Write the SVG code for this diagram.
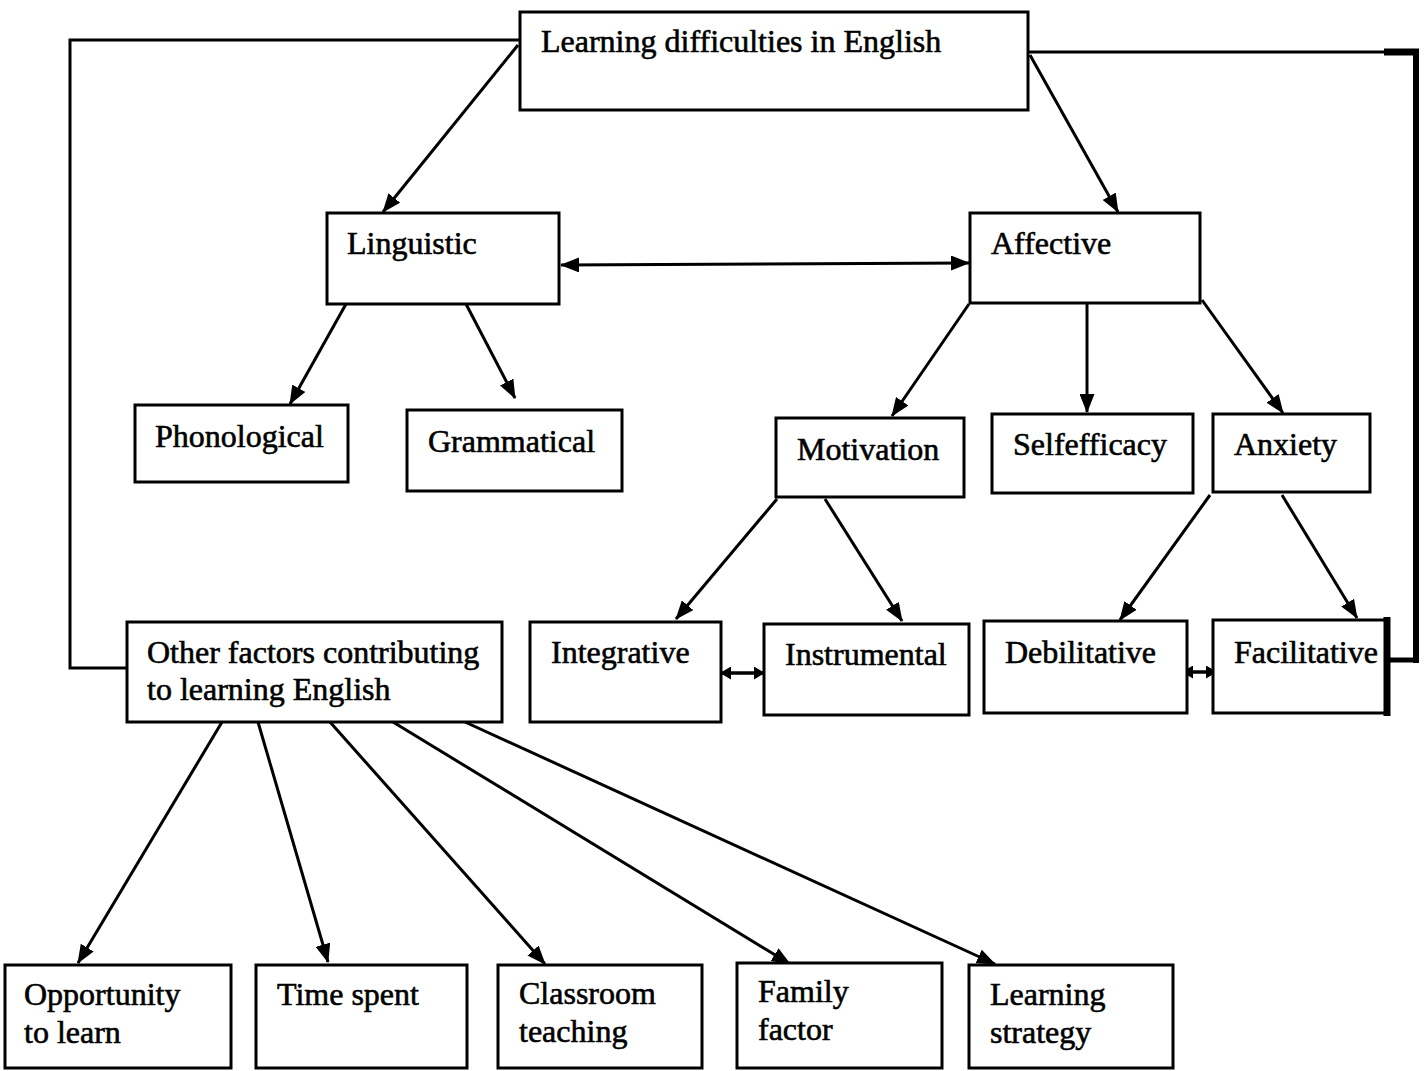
<svg xmlns="http://www.w3.org/2000/svg" width="1424" height="1071" viewBox="0 0 1424 1071">
  <style>
    .box { fill: #ffffff; stroke: #000000; stroke-width: 3; }
    .lbl { font-family: "Liberation Serif", "Times New Roman", serif; font-size: 32px; fill: #000000; stroke: #000000; stroke-width: 0.6; }
    .edge { fill: none; stroke: #000000; stroke-width: 3; }
    .arrow { fill: none; stroke: #000000; stroke-width: 3; marker-end: url(#head); }
    .both { fill: none; stroke: #000000; stroke-width: 3; marker-start: url(#head); marker-end: url(#head); }
    .bothSmall { fill: none; stroke: #000000; stroke-width: 3.5; marker-start: url(#headSmall); marker-end: url(#headSmall); }
  </style>
  <defs>
    <marker id="head" viewBox="0 0 19 15" refX="18" refY="7.5" markerWidth="19" markerHeight="15" markerUnits="userSpaceOnUse" orient="auto-start-reverse">
      <path d="M0,0 L19,7.5 L0,15 Z" fill="#000000"/>
    </marker>
    <marker id="headSmall" viewBox="0 0 11 13" refX="10" refY="6.5" markerWidth="11" markerHeight="13" markerUnits="userSpaceOnUse" orient="auto-start-reverse">
      <path d="M0,0 L11,6.5 L0,13 Z" fill="#000000"/>
    </marker>
  </defs>

  <rect width="1424" height="1071" fill="#ffffff"/>

  <!-- connectors -->
  <g id="connectors">
    <!-- feedback loop on the left: top box to other factors -->
    <polyline class="edge" points="520,40 70,40 70,668 127,668"/>
    <!-- feedback loop on the right: top box to facilitative -->
    <line class="edge" x1="1028" y1="52" x2="1386" y2="52"/>
    <line x1="1384" y1="52" x2="1419" y2="52" stroke="#000" stroke-width="7"/>
    <line x1="1416" y1="49" x2="1416" y2="663" stroke="#000" stroke-width="6"/>
    <line x1="1386" y1="660" x2="1419" y2="660" stroke="#000" stroke-width="5"/>
    <line x1="1387" y1="617" x2="1387" y2="716" stroke="#000" stroke-width="7"/>

    <line class="arrow" x1="518" y1="45" x2="383" y2="212"/>
    <line class="arrow" x1="1030" y1="55" x2="1118" y2="212"/>
    <line class="both" x1="561" y1="265" x2="969" y2="263"/>

    <line class="arrow" x1="346" y1="304" x2="290" y2="404"/>
    <line class="arrow" x1="466" y1="304" x2="515" y2="398"/>

    <line class="arrow" x1="969" y1="304" x2="892" y2="416"/>
    <line class="arrow" x1="1087" y1="302" x2="1087" y2="412"/>
    <line class="arrow" x1="1202" y1="300" x2="1283" y2="413"/>

    <line class="arrow" x1="777" y1="499" x2="676" y2="619"/>
    <line class="arrow" x1="825" y1="499" x2="902" y2="621"/>
    <line class="arrow" x1="1210" y1="495" x2="1120" y2="620"/>
    <line class="arrow" x1="1282" y1="495" x2="1357" y2="618"/>

    <line class="bothSmall" x1="721" y1="673" x2="764" y2="673"/>
    <line class="bothSmall" x1="1183" y1="672" x2="1216" y2="672"/>

    <line class="arrow" x1="222" y1="722" x2="78" y2="963"/>
    <line class="arrow" x1="258" y1="722" x2="328" y2="962"/>
    <line class="arrow" x1="330" y1="722" x2="545" y2="964"/>
    <line class="arrow" x1="393" y1="722" x2="790" y2="964"/>
    <line class="arrow" x1="465" y1="722" x2="995" y2="964"/>
  </g>

  <!-- nodes -->
  <g id="node-learning-difficulties">
    <rect class="box" x="520" y="12" width="508" height="98"/>
    <text class="lbl" x="541" y="52">Learning difficulties in English</text>
  </g>
  <g id="node-linguistic">
    <rect class="box" x="327" y="213" width="232" height="91"/>
    <text class="lbl" x="347" y="254">Linguistic</text>
  </g>
  <g id="node-affective">
    <rect class="box" x="970" y="213" width="230" height="90"/>
    <text class="lbl" x="991" y="254">Affective</text>
  </g>
  <g id="node-phonological">
    <rect class="box" x="135" y="405" width="213" height="77"/>
    <text class="lbl" x="155" y="447">Phonological</text>
  </g>
  <g id="node-grammatical">
    <rect class="box" x="407" y="410" width="215" height="81"/>
    <text class="lbl" x="428" y="452">Grammatical</text>
  </g>
  <g id="node-motivation">
    <rect class="box" x="776" y="418" width="188" height="79"/>
    <text class="lbl" x="797" y="460">Motivation</text>
  </g>
  <g id="node-selfefficacy">
    <rect class="box" x="992" y="414" width="201" height="79"/>
    <text class="lbl" x="1013" y="455">Selfefficacy</text>
  </g>
  <g id="node-anxiety">
    <rect class="box" x="1213" y="414" width="157" height="78"/>
    <text class="lbl" x="1234" y="455">Anxiety</text>
  </g>
  <g id="node-other-factors">
    <rect class="box" x="127" y="622" width="375" height="100"/>
    <text class="lbl" x="147" y="663">Other factors contributing</text>
    <text class="lbl" x="147" y="700">to learning English</text>
  </g>
  <g id="node-integrative">
    <rect class="box" x="530" y="622" width="191" height="100"/>
    <text class="lbl" x="551" y="663">Integrative</text>
  </g>
  <g id="node-instrumental">
    <rect class="box" x="764" y="624" width="205" height="91"/>
    <text class="lbl" x="785" y="665">Instrumental</text>
  </g>
  <g id="node-debilitative">
    <rect class="box" x="984" y="621" width="203" height="92"/>
    <text class="lbl" x="1005" y="663">Debilitative</text>
  </g>
  <g id="node-facilitative">
    <rect class="box" x="1213" y="620" width="172" height="93"/>
    <text class="lbl" x="1234" y="663">Facilitative</text>
  </g>
  <g id="node-opportunity">
    <rect class="box" x="5" y="965" width="226" height="103"/>
    <text class="lbl" x="24" y="1005">Opportunity</text>
    <text class="lbl" x="24" y="1043">to learn</text>
  </g>
  <g id="node-time-spent">
    <rect class="box" x="256" y="965" width="211" height="103"/>
    <text class="lbl" x="277" y="1005">Time spent</text>
  </g>
  <g id="node-classroom">
    <rect class="box" x="498" y="965" width="204" height="103"/>
    <text class="lbl" x="519" y="1004">Classroom</text>
    <text class="lbl" x="519" y="1042">teaching</text>
  </g>
  <g id="node-family">
    <rect class="box" x="737" y="963" width="205" height="105"/>
    <text class="lbl" x="758" y="1002">Family</text>
    <text class="lbl" x="758" y="1040">factor</text>
  </g>
  <g id="node-learning-strategy">
    <rect class="box" x="969" y="965" width="204" height="103"/>
    <text class="lbl" x="990" y="1005">Learning</text>
    <text class="lbl" x="990" y="1043">strategy</text>
  </g>
</svg>
